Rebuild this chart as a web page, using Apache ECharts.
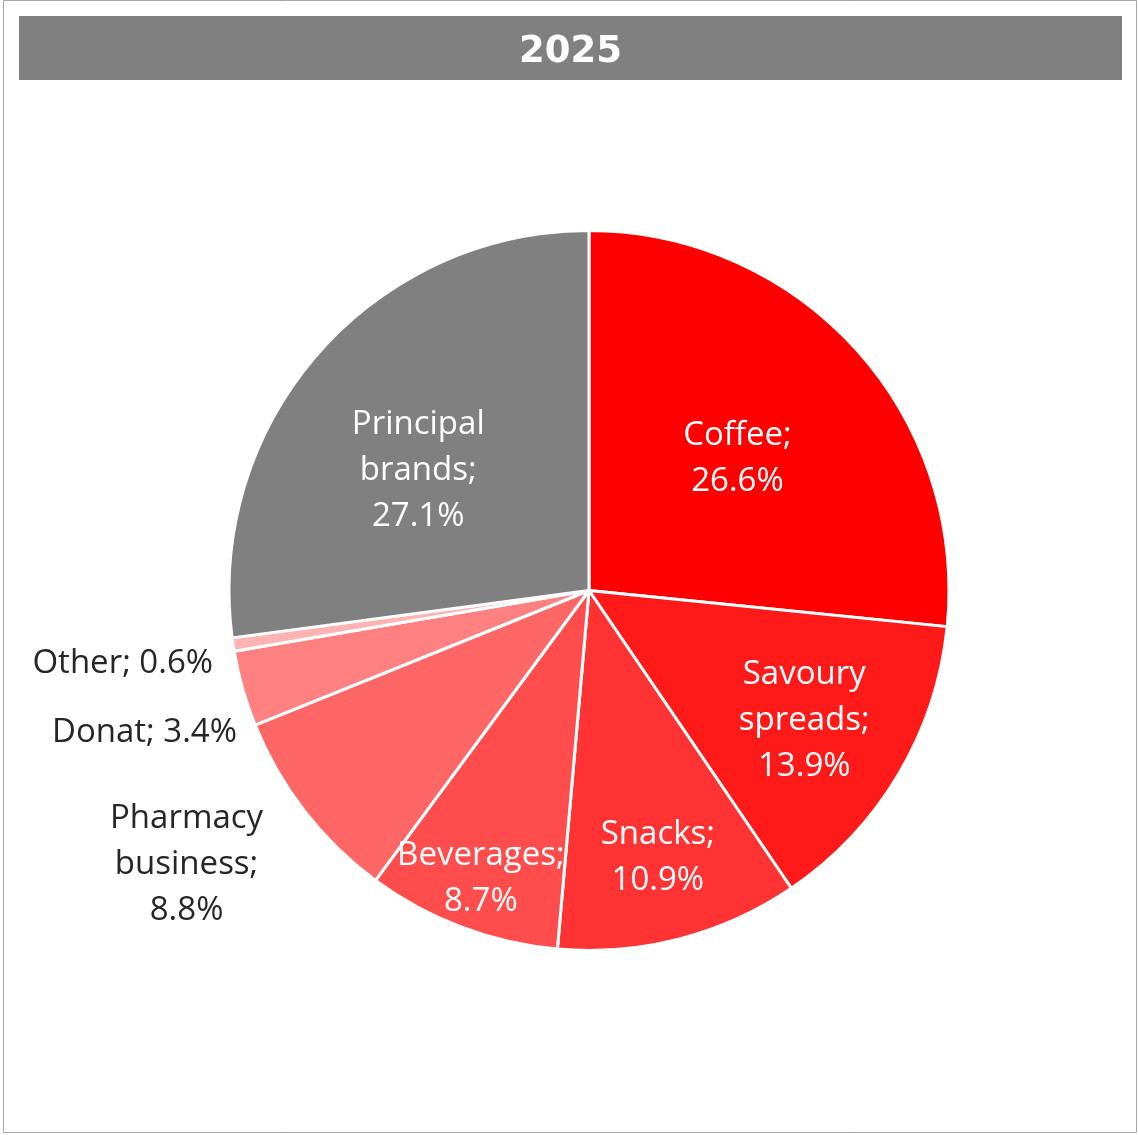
<!DOCTYPE html>
<html>
<head>
<meta charset="utf-8">
<style>
  html, body { margin: 0; padding: 0; background: #ffffff; }
  #chart { width: 1138px; height: 1135px; }
</style>
<script src="https://cdn.jsdelivr.net/npm/echarts@6/dist/echarts.min.js"></script>
</head>
<body>
<div id="chart"></div>
<script>
// Revenue split by business line, 2025 (share of total, %)
const title = '2025';
const categories = ['Coffee', 'Savoury spreads', 'Snacks', 'Beverages', 'Pharmacy business', 'Donat', 'Other', 'Principal brands'];
const shares = [26.6, 13.9, 10.9, 8.7, 8.8, 3.4, 0.6, 27.1];

// How each category name is wrapped in its label
const labelNames = ['Coffee', 'Savoury\nspreads', 'Snacks', 'Beverages', 'Pharmacy\nbusiness', 'Donat', 'Other', 'Principal\nbrands'];
const labelSeparator = ['\n', '\n', '\n', '\n', '\n', ' ', ' ', '\n'];

// Slice colours
const sliceColors = ['#ff0000', '#ff1a1a', '#ff3333', '#ff4d4d', '#ff6666', '#ff8080', '#ffb3b3', '#808080'];
const labelColors = ['#ffffff', '#ffffff', '#ffffff', '#ffffff', '#262626', '#262626', '#262626', '#ffffff'];
// Label placement: distance from centre as a fraction of the radius, and a small angular nudge (deg)
const labelRadius = [0.556, 0.696, 0.76, 0.85, 1.35, 1.295, 1.31, 0.582];
const labelNudge = [0, 0, 0, 0, 3.7, -1.7, 0, -5.8];

const CX = 589, CY = 590.5, R = 360;

const total = shares.reduce((a, b) => a + b, 0);
const midAngles = [];
let acc = 0;
shares.forEach(v => {
  midAngles.push((acc + v / 2) / total * 360);
  acc += v;
});

const chart = echarts.init(document.getElementById('chart'), null, { renderer: 'canvas' });

const option = {
  animation: false,
  backgroundColor: '#ffffff',
  graphic: [
    {
      type: 'rect',
      z: -10,
      shape: { x: 3.5, y: 0.5, width: 1133, height: 1132 },
      style: { fill: '#ffffff', stroke: '#a6a6a6', lineWidth: 1 }
    },
    {
      type: 'rect',
      z: -5,
      shape: { x: 19, y: 16, width: 1103, height: 64 },
      style: { fill: '#808080' }
    },
    {
      type: 'text',
      z: 10,
      x: 570.5,
      y: 52,
      style: {
        text: title,
        fill: '#ffffff',
        font: 'bold 37px "DejaVu Sans", sans-serif',
        textAlign: 'center',
        textVerticalAlign: 'middle'
      }
    }
  ],
  series: [
    {
      type: 'pie',
      center: [CX, CY],
      radius: [0, R],
      startAngle: 90,
      clockwise: true,
      avoidLabelOverlap: false,
      itemStyle: { borderColor: '#ffffff', borderWidth: 3 },
      emphasis: { disabled: true },
      label: {
        show: true,
        position: 'inside',
        fontFamily: 'Open Sans, sans-serif',
        fontSize: 33,
        lineHeight: 46,
        align: 'center',
        formatter: p => labelNames[p.dataIndex] + ';' + labelSeparator[p.dataIndex] + p.value.toFixed(1) + '%'
      },
      labelLine: { show: false },
      labelLayout: params => {
        const i = params.dataIndex;
        const a = (midAngles[i] + labelNudge[i]) * Math.PI / 180;
        const d = labelRadius[i] * R;
        return {
          x: CX + d * Math.sin(a),
          y: CY - d * Math.cos(a) + 2,
          align: 'center',
          verticalAlign: 'middle'
        };
      },
      data: categories.map((c, i) => ({
        name: c,
        value: shares[i],
        itemStyle: { color: sliceColors[i] },
        label: { color: labelColors[i] }
      }))
    }
  ]
};

chart.setOption(option);
</script>
</body>
</html>
